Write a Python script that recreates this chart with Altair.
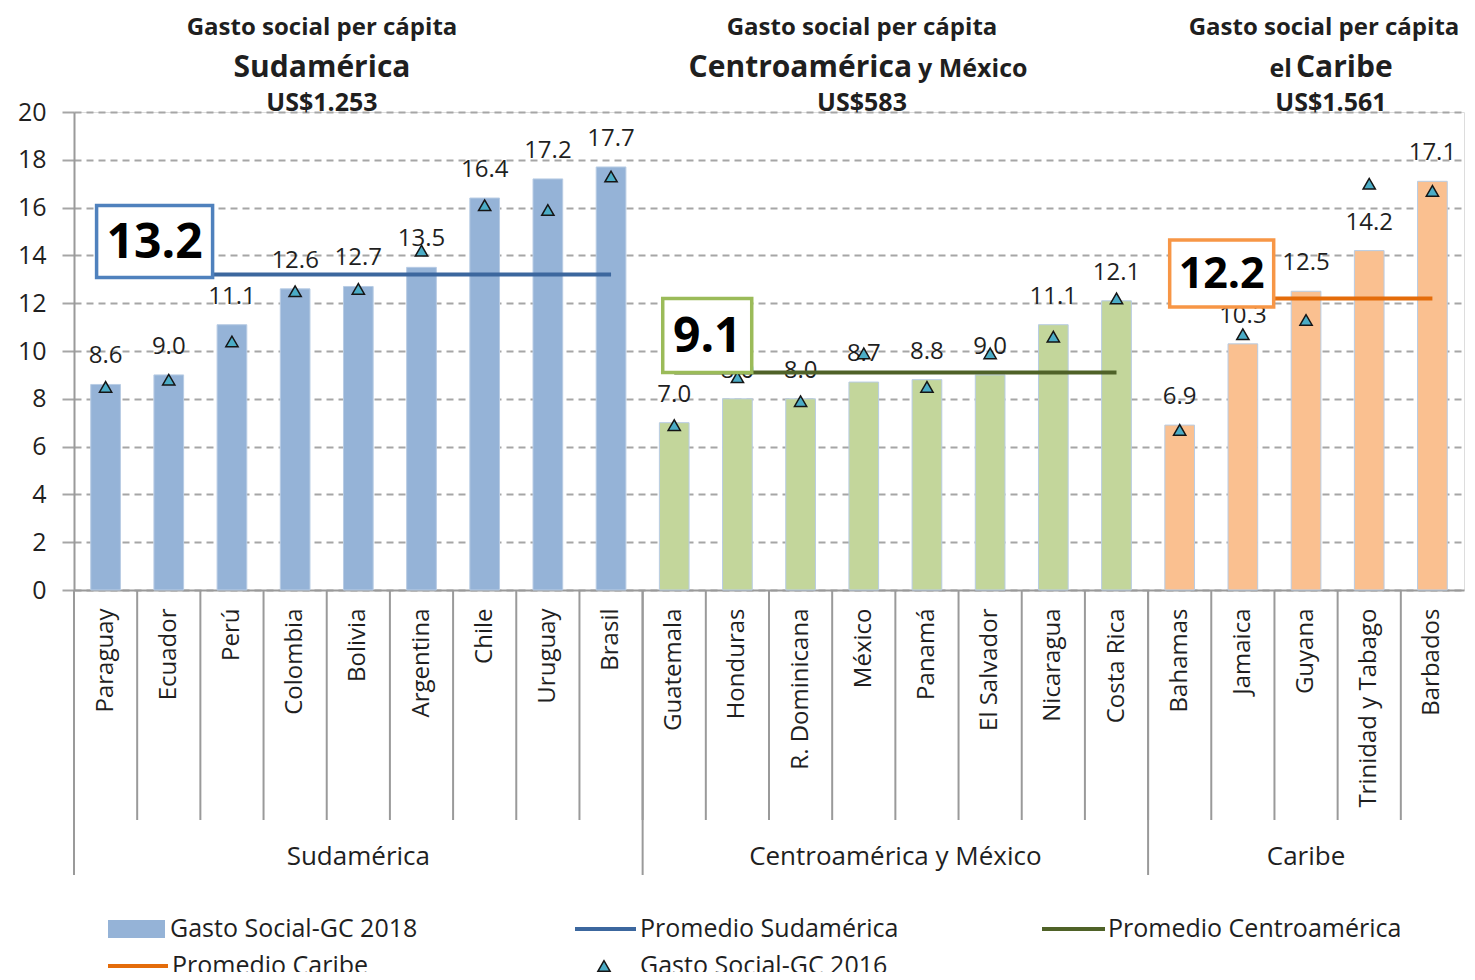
import altair as alt
import pandas as pd

# ---------------- data ----------------
countries = ["Paraguay", "Ecuador", "Perú", "Colombia", "Bolivia", "Argentina", "Chile", "Uruguay", "Brasil",
             "Guatemala", "Honduras", "R. Dominicana", "México", "Panamá", "El Salvador", "Nicaragua", "Costa Rica",
             "Bahamas", "Jamaica", "Guyana", "Trinidad y Tabago", "Barbados"]
regions = ["Sudamérica"] * 9 + ["Centroamérica y México"] * 8 + ["Caribe"] * 5
gasto_2018 = [8.6, 9.0, 11.1, 12.6, 12.7, 13.5, 16.4, 17.2, 17.7,
              7.0, 8.0, 8.0, 8.7, 8.8, 9.0, 11.1, 12.1,
              6.9, 10.3, 12.5, 14.2, 17.1]
gasto_2016 = [8.5, 8.8, 10.4, 12.5, 12.6, 14.2, 16.1, 15.9, 17.3,
              6.9, 8.9, 7.9, 9.9, 8.5, 9.9, 10.6, 12.2,
              6.7, 10.7, 11.3, 17.0, 16.7]
region_names = ["Sudamérica", "Centroamérica y México", "Caribe"]
region_avg = [13.2, 9.1, 12.2]
region_avg_labels = ["13.2", "9.1", "12.2"]
y_ticks = [0, 2, 4, 6, 8, 10, 12, 14, 16, 18, 20]
title_top = ["Gasto social per cápita", "Gasto social per cápita", "Gasto social per cápita"]
title_main = ["Sudamérica", "Centroamérica", "Caribe"]
title_minor = ["", "y México", "el"]
title_amount = ["US$1.253", "US$583", "US$1.561"]
legend_labels = ["Gasto Social-GC 2018", "Promedio Sudamérica", "Promedio Centroamérica",
                 "Promedio Caribe", "Gasto Social-GC 2016"]

# ---------------- tables ----------------
df = pd.DataFrame({"pais": countries, "grupo": regions, "g2018": gasto_2018, "g2016": gasto_2016})
avg_map = dict(zip(region_names, region_avg))
df["promedio"] = df["grupo"].map(avg_map)
df["etiqueta"] = df["g2018"].map(lambda v: f"{v:.1f}")

df_first = df.groupby("grupo", sort=False).head(1).reset_index(drop=True)
df_first["avg_label"] = df_first["grupo"].map(dict(zip(region_names, region_avg_labels)))

anchor_rows = []
for g in region_names:
    members = [c for c, r in zip(countries, regions) if r == g]
    n = len(members)
    anchor_rows.append({"grupo": g, "pais": members[n // 2], "odd": n % 2 == 1})
df_anchor = pd.DataFrame(anchor_rows)

dummy = pd.DataFrame({"k": [0]})

# ---------------- styles ----------------
FONT = "Open Sans"
W, H = 1390, 478
TXT = "#1f1f1f"
bar_colors = ["#95B3D7", "#C3D69B", "#FAC090"]
line_colors = ["#3C679E", "#4F6228", "#E46C0A"]
box_colors = ["#4F81BD", "#9BBB59", "#F79646"]
GRID = "#A6A6A6"

xscale = alt.Scale(domain=countries, paddingInner=0, paddingOuter=0)
x_axis = alt.Axis(title=None, ticks=False, labelAngle=-90, labelAlign="right", labelBaseline="middle",
                  labelPadding=18, labelFontSize=24, labelFont=FONT, labelColor=TXT, labelLimit=400,
                  domainColor="#9A9A9A", domainWidth=2, grid=False)
yscale = alt.Scale(domain=[0, 20], nice=False)
y_axis = alt.Axis(title=None, values=y_ticks, grid=True, gridDash=[7, 5], gridColor=GRID, gridWidth=2,
                  tickSize=12, tickColor=GRID, tickWidth=2, labelFontSize=25, labelFont=FONT,
                  labelColor=TXT, labelPadding=16, domainColor="#9A9A9A", domainWidth=2)


def xenc(band=0.5):
    return alt.X("pais:N", sort=countries, scale=xscale, axis=x_axis, bandPosition=band)


def yenc(field):
    return alt.Y(f"{field}:Q", scale=yscale, axis=y_axis)


base = alt.Chart(df)

bars = base.mark_bar(width={"band": 0.47}, stroke="#B8CCE4", strokeWidth=1).encode(
    x=xenc(),
    y=yenc("g2018"),
    color=alt.Color("grupo:N", scale=alt.Scale(domain=region_names, range=bar_colors), legend=None),
)

value_labels = base.mark_text(dy=-28, fontSize=24, font=FONT, color=TXT, baseline="middle").encode(
    x=xenc(), y=yenc("g2018"), text="etiqueta:N"
)

avg_lines = base.mark_line(strokeWidth=4).encode(
    x=xenc(), y=yenc("promedio"), detail="grupo:N",
    stroke=alt.Stroke("grupo:N", scale=alt.Scale(domain=region_names, range=line_colors), legend=None),
)

triangles = base.mark_point(shape="triangle-up", filled=True, fill="#4BACC6", stroke="#151515",
                            strokeWidth=1.5, size=150, opacity=1).encode(
    x=xenc(), y=yenc("g2016")
)

country_sep = base.mark_rule(color="#9A9A9A", strokeWidth=2).encode(
    x=xenc(0), y=alt.value(H), y2=alt.value(H + 230)
)
group_sep = alt.Chart(df_first).mark_rule(color="#9A9A9A", strokeWidth=2).encode(
    x=xenc(0), y=alt.value(H), y2=alt.value(H + 285)
)

group_label_odd = alt.Chart(df_anchor).transform_filter(alt.datum.odd).mark_text(
    fontSize=26, font=FONT, color=TXT, baseline="middle").encode(
    x=xenc(0.5), y=alt.value(H + 267), text="grupo:N")
group_label_even = alt.Chart(df_anchor).transform_filter(~alt.datum.odd).mark_text(
    fontSize=26, font=FONT, color=TXT, baseline="middle").encode(
    x=xenc(0), y=alt.value(H + 267), text="grupo:N")


def avg_box(i, w, h, dx, dy, fs):
    src = alt.Chart(df_first).transform_filter(alt.datum.grupo == region_names[i])
    r = h / w
    box = src.mark_point(shape=f"M-1,{-r:.4f}H1V{r:.4f}H-1Z", size=w * w, filled=True, fill="white",
                         stroke=box_colors[i], strokeWidth=3.5, opacity=1, xOffset=dx, yOffset=dy).encode(
        x=xenc(), y=yenc("promedio"))
    txt = src.mark_text(fontSize=fs, fontWeight="bold", font=FONT, color="#000000", baseline="middle",
                        dx=dx, dy=dy + 2).encode(x=xenc(), y=yenc("promedio"), text="avg_label:N")
    return [box, txt]


boxes = avg_box(0, 116, 72, 49, -33, 48) + avg_box(1, 89, 74, 33, -37, 48) + avg_box(2, 104, 67, 42, -25, 43)


def label(text, x, y, size, weight="normal", align="center", baseline="alphabetic"):
    return alt.Chart(dummy).mark_text(text=text, fontSize=size, fontWeight=weight, align=align,
                                      baseline=baseline, font=FONT, color=TXT).encode(
        x=alt.value(x), y=alt.value(y))


titles = []
centers = [248, 788, 1257]
top_centers = [248, 788, 1250]
for i in range(3):
    titles.append(label(title_top[i], top_centers[i], -77, 24, "bold"))
    titles.append(label(title_amount[i], centers[i], -1, 25, "bold"))
titles.append(label(title_main[0], centers[0], -35, 30, "bold"))
titles.append(label(title_main[1], 838, -35, 30, "bold", align="right"))
titles.append(label(title_minor[1], 844, -35, 25, "bold", align="left"))
titles.append(label(title_minor[2], 1218, -35, 25, "bold", align="right"))
titles.append(label(title_main[2], 1222, -35, 30, "bold", align="left"))

# ---------------- legend (drawn) ----------------
LY1, LY2 = 817, 854
LFS = 25
legend = [
    alt.Chart(dummy).mark_rect(color=bar_colors[0]).encode(
        x=alt.value(34), x2=alt.value(91), y=alt.value(LY1 - 9), y2=alt.value(LY1 + 9)),
    label(legend_labels[0], 96, LY1, LFS, baseline="middle", align="left"),
    alt.Chart(dummy).mark_rule(color=line_colors[0], strokeWidth=4).encode(
        x=alt.value(501), x2=alt.value(562), y=alt.value(LY1)),
    label(legend_labels[1], 566, LY1, LFS, baseline="middle", align="left"),
    alt.Chart(dummy).mark_rule(color=line_colors[1], strokeWidth=4).encode(
        x=alt.value(968), x2=alt.value(1031), y=alt.value(LY1)),
    label(legend_labels[2], 1034, LY1, LFS, baseline="middle", align="left"),
    alt.Chart(dummy).mark_rule(color=line_colors[2], strokeWidth=4).encode(
        x=alt.value(34), x2=alt.value(94), y=alt.value(LY2)),
    label(legend_labels[3], 98, LY2, LFS, baseline="middle", align="left"),
    alt.Chart(dummy).mark_point(shape="triangle-up", filled=True, fill="#4BACC6", stroke="#151515",
                                strokeWidth=1.5, size=150, opacity=1).encode(
        x=alt.value(530), y=alt.value(LY2)),
    label(legend_labels[4], 566, LY2, LFS, baseline="middle", align="left"),
]

chart = alt.layer(
    bars, country_sep, group_sep, group_label_odd, group_label_even,
    value_labels, avg_lines, triangles, *boxes, *titles, *legend
).properties(
    width=W, height=H,
    autosize=alt.AutoSizeParams(type="none"),
    padding={"left": 66, "top": 104, "right": 3, "bottom": 382},
).configure_view(strokeWidth=0).configure(background="white")

chart.save("out.html", embed_options={"renderer": "svg", "actions": False})
